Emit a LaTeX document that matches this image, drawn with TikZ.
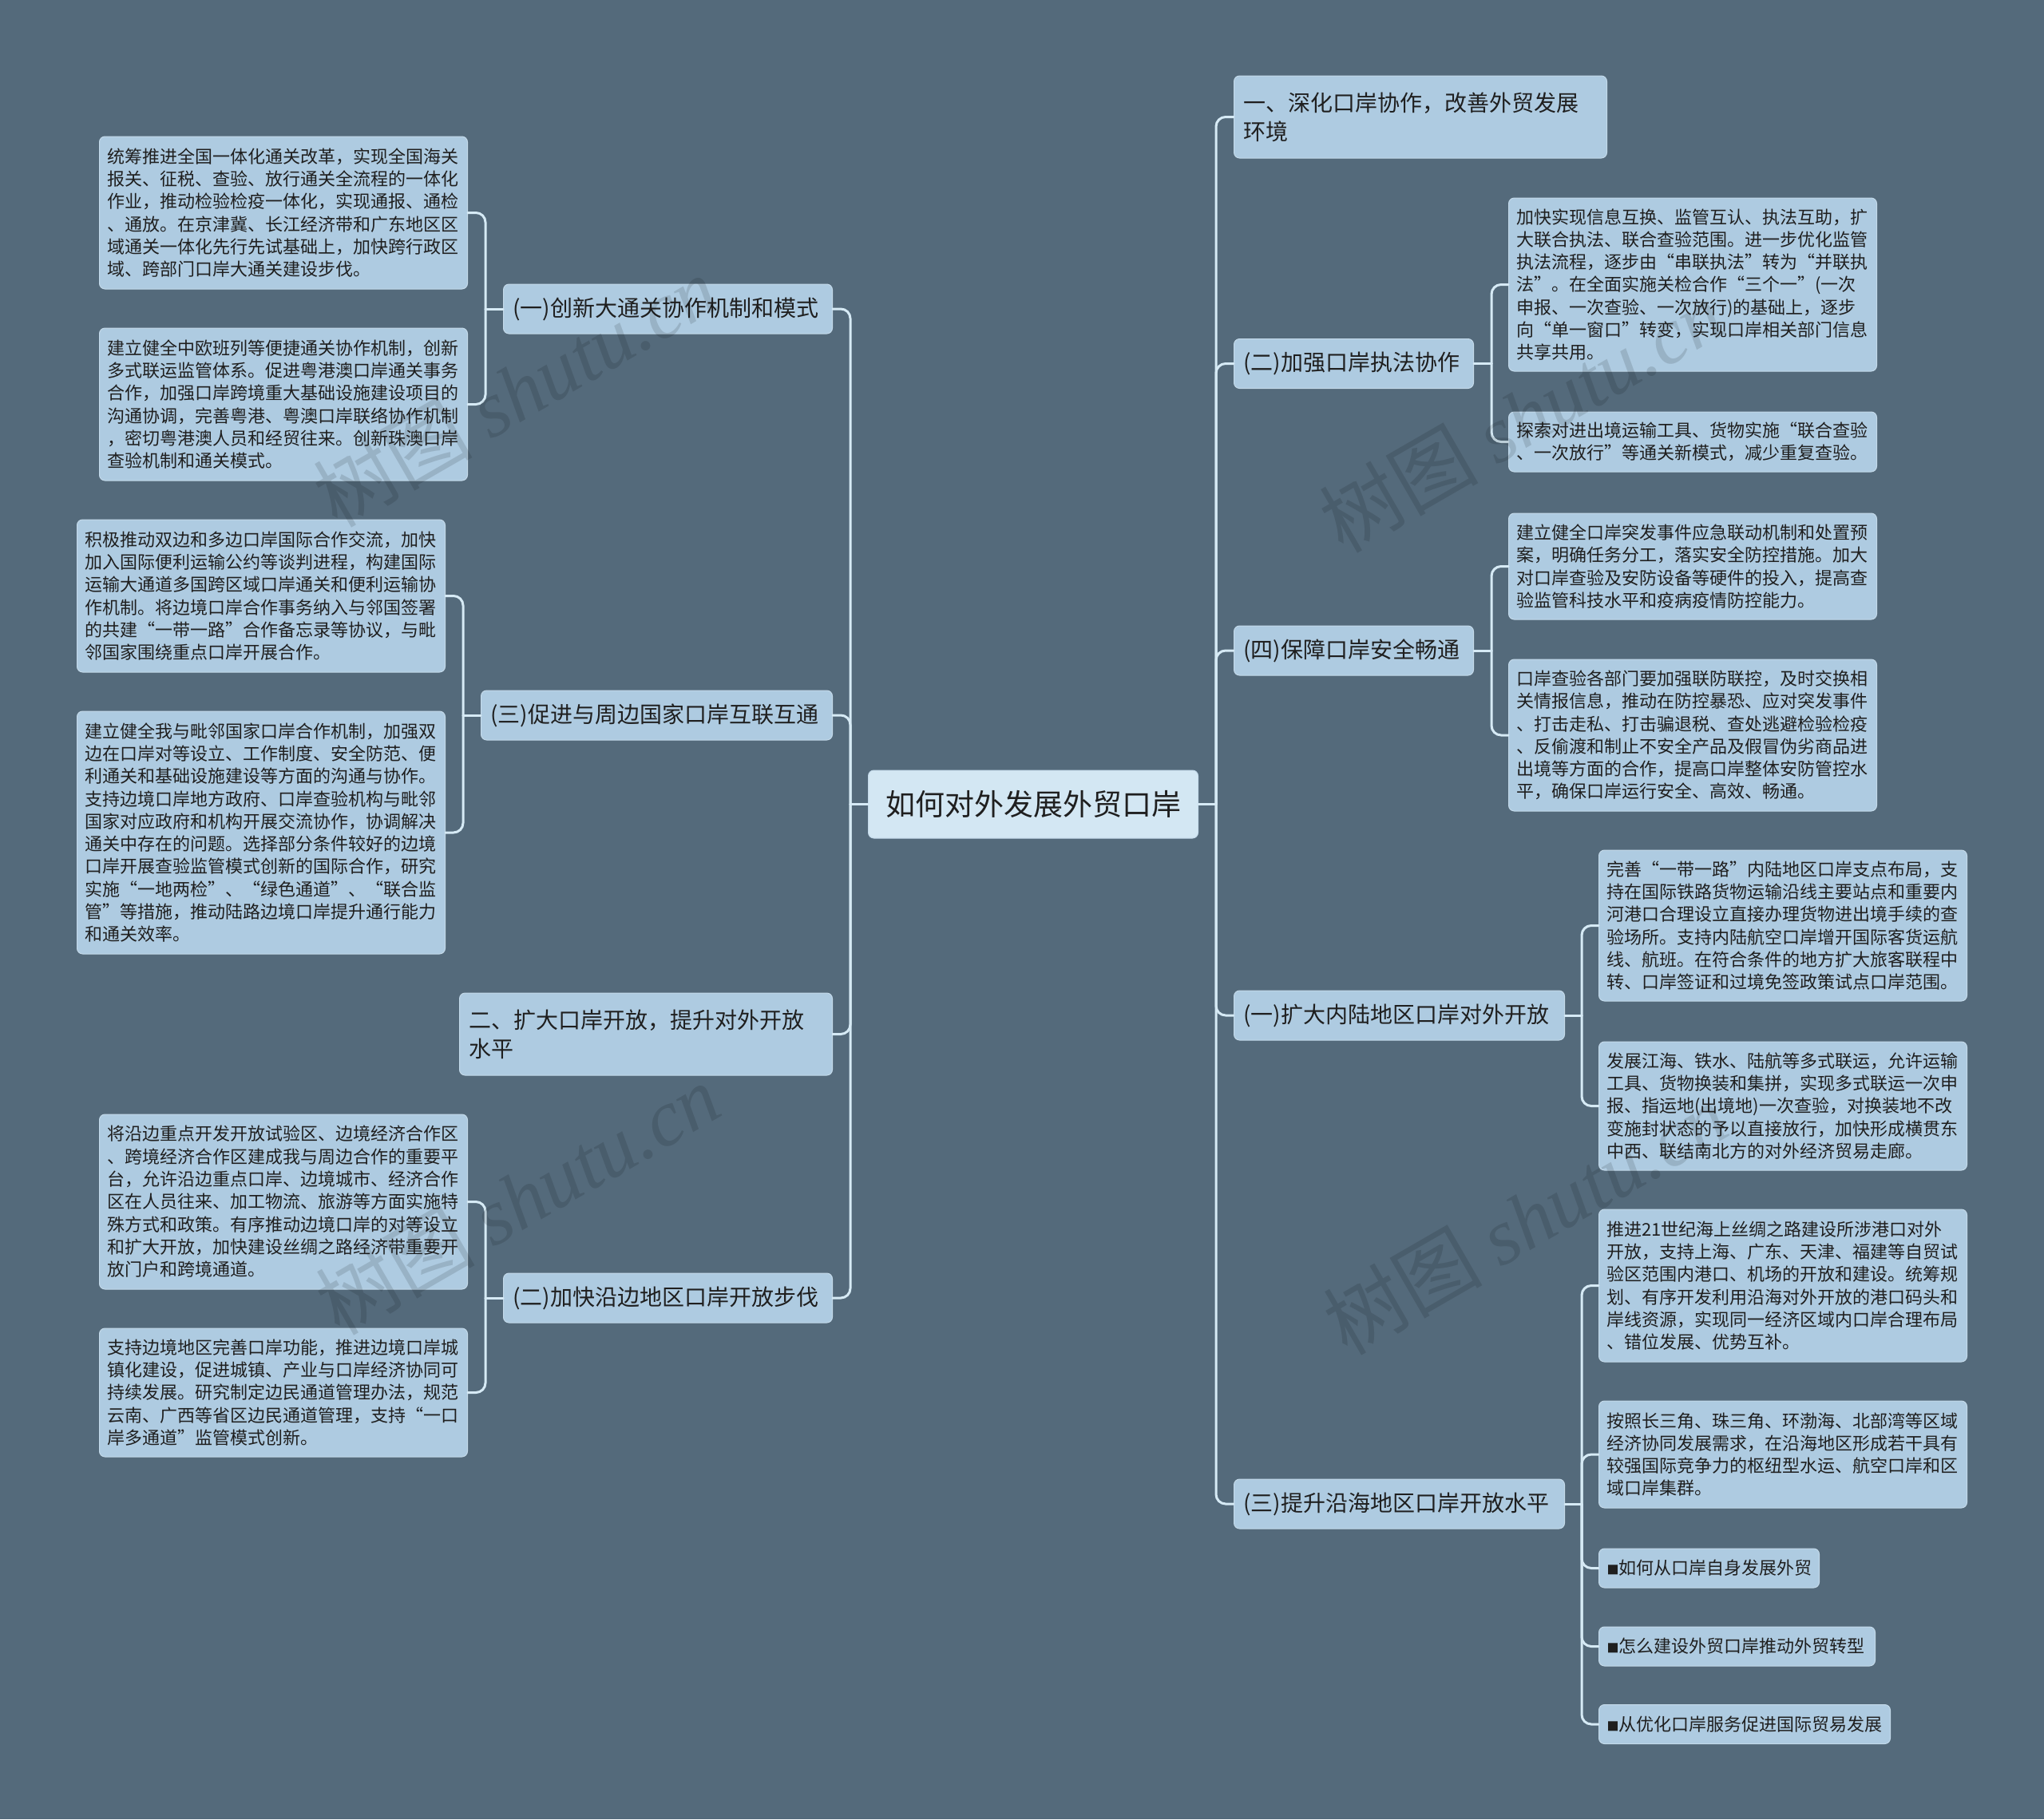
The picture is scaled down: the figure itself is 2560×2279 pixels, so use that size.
\documentclass[tikz,border=0pt]{standalone}
\usepackage{fontspec}
\newfontfamily\cjk{Noto Sans CJK SC}
\newfontfamily\wmserif{Liberation Serif}
\definecolor{bg}{HTML}{546A7B}
\definecolor{boxfill}{HTML}{AECBE1}
\definecolor{boxedge}{HTML}{C4DAEA}
\definecolor{rootfill}{HTML}{D3E7F3}
\definecolor{linec}{HTML}{D6EAF5}
\definecolor{txt}{HTML}{1F1F1F}
\newcommand{\sq}{{\fontsize{15}{15}\selectfont ■}}
\tikzset{
  box/.style={fill=boxfill, draw=boxedge, line width=1, rounded corners=7, inner ysep=0, align=left, text=txt, anchor=west},
  leaf/.style={box, inner xsep=10, font=\cjk\fontsize{22}{28.3}\selectfont, text width=441},
  small/.style={box, inner xsep=10, font=\cjk\fontsize{22}{28.3}\selectfont, minimum height=49},
  mid/.style={box, inner xsep=12, font=\cjk\fontsize{28}{36}\selectfont},
  rootbox/.style={box, fill=rootfill, inner xsep=18, font=\cjk\fontsize{37}{44}\selectfont, align=center},
  conn/.style={draw=linec, line width=3, rounded corners=12, line cap=round},
  wm/.style={text=black, text opacity=0.12, font=\cjk\fontsize{100}{100}\selectfont, inner sep=0}
}
\begin{document}
\begin{tikzpicture}[x=1pt,y=-1pt]
\fill[bg] (0,0) rectangle (2560,2279);
\useasboundingbox (0,0) rectangle (2560,2279);

% root
\node[rootbox, text width=377, minimum height=85] (root) at (1087,1007.5) {如何对外发展外贸口岸};

% ---------- left side ----------
\node[mid, text width=388, minimum height=62] (m1) at (630,387) {(一)创新大通关协作机制和模式};
\node[leaf, minimum height=191] (l1a) at (124,266.5) {统筹推进全国一体化通关改革，实现全国海关\\报关、征税、查验、放行通关全流程的一体化\\作业，推动检验检疫一体化，实现通报、通检\\、通放。在京津冀、长江经济带和广东地区区\\域通关一体化先行先试基础上，加快跨行政区\\域、跨部门口岸大通关建设步伐。};
\node[leaf, minimum height=191] (l1b) at (124,506.5) {建立健全中欧班列等便捷通关协作机制，创新\\多式联运监管体系。促进粤港澳口岸通关事务\\合作，加强口岸跨境重大基础设施建设项目的\\沟通协调，完善粤港、粤澳口岸联络协作机制\\，密切粤港澳人员和经贸往来。创新珠澳口岸\\查验机制和通关模式。};

\node[mid, text width=416, minimum height=62] (m3) at (602,896) {(三)促进与周边国家口岸互联互通};
\node[leaf, minimum height=191] (l3a) at (96,746.5) {积极推动双边和多边口岸国际合作交流，加快\\加入国际便利运输公约等谈判进程，构建国际\\运输大通道多国跨区域口岸通关和便利运输协\\作机制。将边境口岸合作事务纳入与邻国签署\\的共建“一带一路”合作备忘录等协议，与毗\\邻国家围绕重点口岸开展合作。};
\node[leaf, minimum height=304] (l3b) at (96,1043) {建立健全我与毗邻国家口岸合作机制，加强双\\边在口岸对等设立、工作制度、安全防范、便\\利通关和基础设施建设等方面的沟通与协作。\\支持边境口岸地方政府、口岸查验机构与毗邻\\国家对应政府和机构开展交流协作，协调解决\\通关中存在的问题。选择部分条件较好的边境\\口岸开展查验监管模式创新的国际合作，研究\\实施“一地两检”、“绿色通道”、“联合监\\管”等措施，推动陆路边境口岸提升通行能力\\和通关效率。};

\node[mid, text width=443, minimum height=103] (m2big) at (575,1295.5) {二、扩大口岸开放，提升对外开放\\水平};

\node[mid, text width=388, minimum height=62] (m2) at (630,1626) {(二)加快沿边地区口岸开放步伐};
\node[leaf, minimum height=219] (l2a) at (124,1505.5) {将沿边重点开发开放试验区、边境经济合作区\\、跨境经济合作区建成我与周边合作的重要平\\台，允许沿边重点口岸、边境城市、经济合作\\区在人员往来、加工物流、旅游等方面实施特\\殊方式和政策。有序推动边境口岸的对等设立\\和扩大开放，加快建设丝绸之路经济带重要开\\放门户和跨境通道。};
\node[leaf, minimum height=161] (l2b) at (124,1744.5) {支持边境地区完善口岸功能，推进边境口岸城\\镇化建设，促进城镇、产业与口岸经济协同可\\持续发展。研究制定边民通道管理办法，规范\\云南、广西等省区边民通道管理，支持“一口\\岸多通道”监管模式创新。};

% ---------- right side ----------
\node[mid, text width=443, minimum height=103] (r1big) at (1545,146.5) {一、深化口岸协作，改善外贸发展\\环境};

\node[mid, text width=276, minimum height=62] (rm2) at (1545,455.5) {(二)加强口岸执法协作};
\node[leaf, minimum height=217] (r2a) at (1889,356.5) {加快实现信息互换、监管互认、执法互助，扩\\大联合执法、联合查验范围。进一步优化监管\\执法流程，逐步由“串联执法”转为“并联执\\法”。在全面实施关检合作“三个一”(一次\\申报、一次查验、一次放行)的基础上，逐步\\向“单一窗口”转变，实现口岸相关部门信息\\共享共用。};
\node[leaf, minimum height=75] (r2b) at (1889,553.5) {探索对进出境运输工具、货物实施“联合查验\\、一次放行”等通关新模式，减少重复查验。};

\node[mid, text width=276, minimum height=62] (rm4) at (1545,815) {(四)保障口岸安全畅通};
\node[leaf, minimum height=133] (r4a) at (1889,709.5) {建立健全口岸突发事件应急联动机制和处置预\\案，明确任务分工，落实安全防控措施。加大\\对口岸查验及安防设备等硬件的投入，提高查\\验监管科技水平和疫病疫情防控能力。};
\node[leaf, minimum height=190] (r4b) at (1889,921) {口岸查验各部门要加强联防联控，及时交换相\\关情报信息，推动在防控暴恐、应对突发事件\\、打击走私、打击骗退税、查处逃避检验检疫\\、反偷渡和制止不安全产品及假冒伪劣商品进\\出境等方面的合作，提高口岸整体安防管控水\\平，确保口岸运行安全、高效、畅通。};

\node[mid, text width=390, minimum height=62] (rm1) at (1545,1272) {(一)扩大内陆地区口岸对外开放};
\node[leaf, minimum height=189] (r1a) at (2002,1159.5) {完善“一带一路”内陆地区口岸支点布局，支\\持在国际铁路货物运输沿线主要站点和重要内\\河港口合理设立直接办理货物进出境手续的查\\验场所。支持内陆航空口岸增开国际客货运航\\线、航班。在符合条件的地方扩大旅客联程中\\转、口岸签证和过境免签政策试点口岸范围。};
\node[leaf, minimum height=161] (r1b) at (2002,1385.5) {发展江海、铁水、陆航等多式联运，允许运输\\工具、货物换装和集拼，实现多式联运一次申\\报、指运地(出境地)一次查验，对换装地不改\\变施封状态的予以直接放行，加快形成横贯东\\中西、联结南北方的对外经济贸易走廊。};

\node[mid, text width=390, minimum height=62] (rm3) at (1545,1884) {(三)提升沿海地区口岸开放水平};
\node[leaf, minimum height=191] (r3a) at (2002,1610.5) {推进21世纪海上丝绸之路建设所涉港口对外\\开放，支持上海、广东、天津、福建等自贸试\\验区范围内港口、机场的开放和建设。统筹规\\划、有序开发利用沿海对外开放的港口码头和\\岸线资源，实现同一经济区域内口岸合理布局\\、错位发展、优势互补。};
\node[leaf, minimum height=134] (r3b) at (2002,1822) {按照长三角、珠三角、环渤海、北部湾等区域\\经济协同发展需求，在沿海地区形成若干具有\\较强国际竞争力的枢纽型水运、航空口岸和区\\域口岸集群。};
\node[small, text width=256] (s1) at (2002,1964.5) {\sq 如何从口岸自身发展外贸};
\node[small, text width=326] (s2) at (2002,2062.5) {\sq 怎么建设外贸口岸推动外贸转型};
\node[small, text width=345] (s3) at (2002,2160) {\sq 从优化口岸服务促进国际贸易发展};

% ---------- connectors ----------
\draw[conn] (root.west) -- ++(-22,0) coordinate (LT);
\foreach \c in {m1,m3,m2big,m2} { \draw[conn] (LT) |- (\c.east); }
\draw[conn] (root.east) -- ++(22,0) coordinate (RT);
\foreach \c in {r1big,rm2,rm4,rm1,rm3} { \draw[conn] (RT) |- (\c.west); }

\draw[conn] (m1.west) -- ++(-22,0) coordinate (B1);
\foreach \c in {l1a,l1b} { \draw[conn] (B1) |- (\c.east); }
\draw[conn] (m3.west) -- ++(-22,0) coordinate (B3);
\foreach \c in {l3a,l3b} { \draw[conn] (B3) |- (\c.east); }
\draw[conn] (m2.west) -- ++(-22,0) coordinate (B2);
\foreach \c in {l2a,l2b} { \draw[conn] (B2) |- (\c.east); }

\draw[conn] (rm2.east) -- ++(22,0) coordinate (C2);
\foreach \c in {r2a,r2b} { \draw[conn] (C2) |- (\c.west); }
\draw[conn] (rm4.east) -- ++(22,0) coordinate (C4);
\foreach \c in {r4a,r4b} { \draw[conn] (C4) |- (\c.west); }
\draw[conn] (rm1.east) -- ++(21,0) coordinate (C1);
\foreach \c in {r1a,r1b} { \draw[conn] (C1) |- (\c.west); }
\draw[conn] (rm3.east) -- ++(21,0) coordinate (C3);
\foreach \c in {r3a,r3b,s1,s2,s3} { \draw[conn] (C3) |- (\c.west); }

% ---------- watermarks ----------
\node[wm, rotate=30] (wm1) at (645,490) {树图 {\wmserif\itshape shutu.cn}};
\node[wm, rotate=30] (wm2) at (648,1502) {树图 {\wmserif\itshape shutu.cn}};
\node[wm, rotate=30] (wm3) at (1905,522) {树图 {\wmserif\itshape shutu.cn}};
\node[wm, rotate=30] (wm4) at (1910,1527) {树图 {\wmserif\itshape shutu.cn}};
\end{tikzpicture}
\end{document}
